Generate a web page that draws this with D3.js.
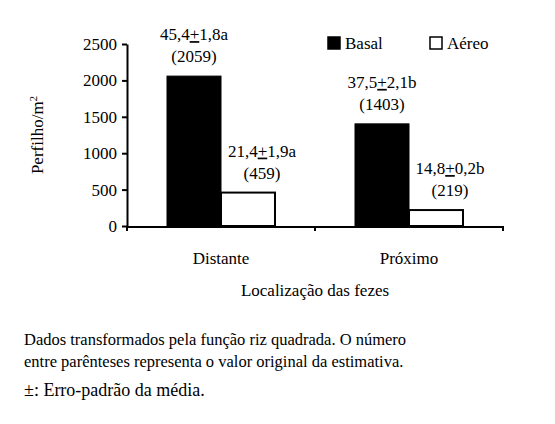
<!DOCTYPE html>
<html>
<head>
<meta charset="utf-8">
<script src="https://d3js.org/d3.v7.min.js"></script>
<style>body{margin:0;background:#fff}</style>
</head>
<body>
<script>
'use strict';
const categories = ['Distante', 'Próximo'];
const series = ['Basal', 'Aéreo'];
const basal = [2059, 1403];
const aereo = [459, 219];
const labelMean = [['45,4', '21,4'], ['37,5', '14,8']];
const labelErr = [['1,8a', '1,9a'], ['2,1b', '0,2b']];
const ticks = [0, 500, 1000, 1500, 2000, 2500];
const FONT = 'Liberation Serif, DejaVu Serif, serif';

const svg = d3.select('body').append('svg').attr('width', 555).attr('height', 424)
    .style('font-family', FONT);
const x0 = d3.scaleBand().domain(categories).range([127, 503]);
const x1 = d3.scaleBand().domain(series).range([40, 148]);
const y = d3.scaleLinear().domain([0, 2500]).range([226, 44]);

// axes
const ya = svg.append('g').attr('transform', 'translate(127,0)')
    .call(d3.axisLeft(y).tickValues(ticks).tickFormat(d3.format('d')).tickSize(5).tickSizeOuter(0))
    .attr('font-family', FONT);
ya.select('.domain').attr('stroke-width', 2);
ya.selectAll('line').attr('stroke-width', 2);
ya.selectAll('text').attr('font-size', 17).attr('x', -10).style('font-family', FONT);

categories.forEach((c, i) => {
  const vals = [basal[i], aereo[i]];
  series.forEach((s, j) => {
    const bx = x0(c) + x1(s);
    svg.append('rect').attr('x', bx).attr('y', y(vals[j]))
      .attr('width', x1.bandwidth()).attr('height', 226 - y(vals[j]))
      .attr('fill', j ? '#fff' : '#000').attr('stroke', '#000').attr('stroke-width', j ? 2 : 1);
  });
});
svg.append('line').attr('x1', 126).attr('x2', 504).attr('y1', 227).attr('y2', 227)
    .attr('stroke', '#000').attr('stroke-width', 2);
[127, 315, 503].forEach(v => svg.append('line').attr('x1', v).attr('x2', v)
    .attr('y1', 226).attr('y2', 231).attr('stroke', '#000').attr('stroke-width', 2));

categories.forEach((c, i) => {
  const vals = [basal[i], aereo[i]];
  series.forEach((s, j) => {
    const cx = x0(c) + x1(s) + x1.bandwidth() / 2 + (j ? 14 : 0);
    const t = svg.append('text').attr('x', cx).attr('y', y(vals[j]) - 36)
      .attr('text-anchor', 'middle').attr('font-size', 17);
    t.append('tspan').text(labelMean[i][j]);
    t.append('tspan').attr('text-decoration', 'underline').text('+');
    t.append('tspan').text(labelErr[i][j]);
    svg.append('text').attr('x', cx).attr('y', y(vals[j]) - 14)
      .attr('text-anchor', 'middle').attr('font-size', 17).text('(' + vals[j] + ')');
  });
  svg.append('text').attr('x', x0(c) + x0.bandwidth() / 2).attr('y', 264)
    .attr('text-anchor', 'middle').attr('font-size', 17).text(c);
});

svg.append('text').attr('x', 315).attr('y', 296).attr('text-anchor', 'middle')
  .attr('font-size', 17).text('Localização das fezes');
const yl = svg.append('text').attr('transform', 'translate(43,135) rotate(-90)')
  .attr('text-anchor', 'middle').attr('font-size', 17);
yl.append('tspan').text('Perfilho/m');
yl.append('tspan').attr('font-size', 11).attr('dy', -6).text('2');

// legend
series.forEach((s, j) => {
  const lx = j ? 430 : 328;
  svg.append('rect').attr('x', lx).attr('y', 37).attr('width', 12).attr('height', 12)
    .attr('fill', j ? '#fff' : '#000').attr('stroke', '#000').attr('stroke-width', 1.5);
  svg.append('text').attr('x', lx + 17).attr('y', 49).attr('font-size', 17).text(s);
});

// footnote
const notes = ['Dados transformados pela função riz quadrada. O número',
  'entre parênteses representa o valor original da estimativa.'];
notes.forEach((n, i) => svg.append('text').attr('x', 24).attr('y', 345 + i * 22)
  .attr('font-size', 16.5).text(n));
svg.append('text').attr('x', 24).attr('y', 396).attr('font-size', 18).text('±: Erro-padrão da média.');
</script>
</body>
</html>
